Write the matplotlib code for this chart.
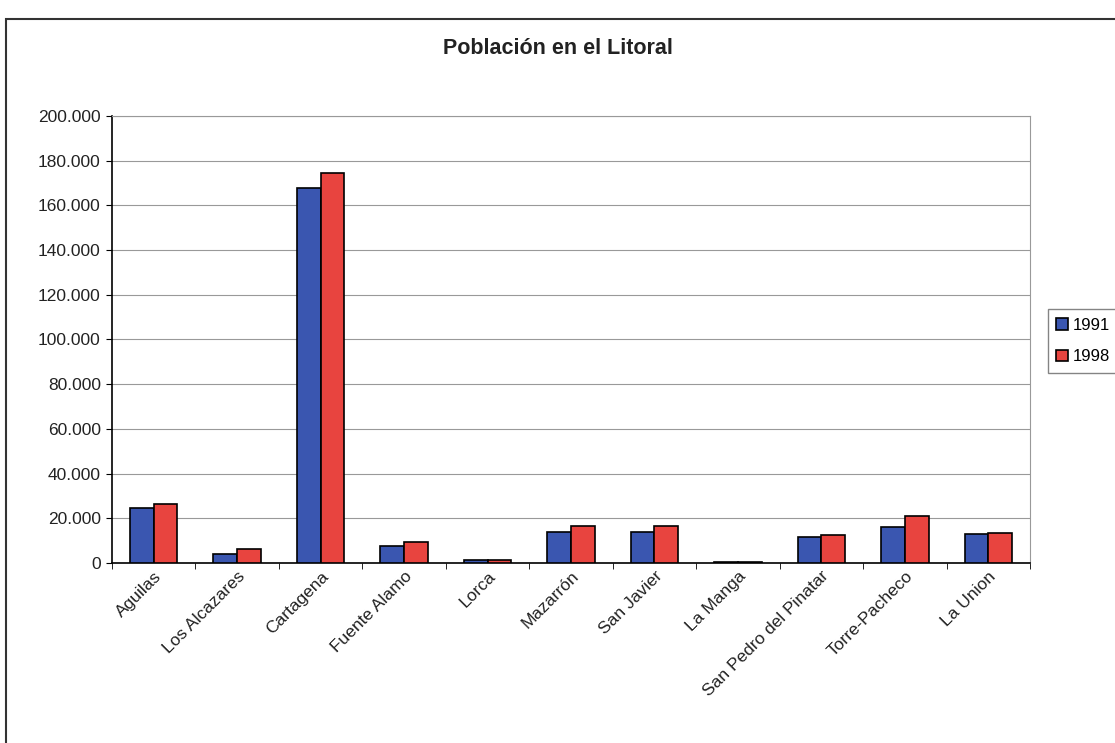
import numpy as np
import matplotlib
matplotlib.use("Agg")
from matplotlib import pyplot as plt
from matplotlib.patches import Rectangle
from matplotlib.ticker import FuncFormatter, FixedLocator

plt.rcParams['font.family'] = ['Liberation Sans', 'DejaVu Sans']

municipios = ['Aguilas', 'Los Alcazares', 'Cartagena', 'Fuente Alamo', 'Lorca',
              'Mazarrón', 'San Javier', 'La Manga', 'San Pedro del Pinatar',
              'Torre-Pacheco', 'La Union']
pob_1991 = [24600, 4000, 167800, 7600, 1300, 13900, 13900, 500, 11600, 16100, 13000]
pob_1998 = [26400, 6200, 174500, 9400, 1300, 16600, 16600, 500, 12500, 21000, 13400]
years = ['1991', '1998']

fig = plt.figure(figsize=(11.15, 7.43), dpi=100)
ax = fig.add_axes([0.1004, 0.2423, 0.8234, 0.6016])

x = np.arange(len(municipios))
w = 0.285
ax.bar(x - w/2, pob_1991, w, color='#3a56b0', edgecolor='black', linewidth=1.2, label=years[0], zorder=3)
ax.bar(x + w/2, pob_1998, w, color='#e8443f', edgecolor='black', linewidth=1.2, label=years[1], zorder=3)

ax.set_xlim(-0.5, len(municipios) - 0.5)
ax.set_ylim(0, 200000)
ax.set_yticks(np.arange(0, 200001, 20000))
ax.yaxis.set_major_formatter(FuncFormatter(lambda v, p: f"{int(v):,}".replace(',', '.')))
ax.grid(axis='y', color='#999999', linewidth=0.8, zorder=0)
ax.tick_params(axis='y', labelsize=12.5, length=4, direction='out', pad=4, labelcolor='#222222')

# category labels and boundary ticks
ax.set_xticks(x)
ax.set_xticklabels(municipios, rotation=45, ha='right', rotation_mode='anchor',
                   fontsize=12.5, color='#222222')
ax.tick_params(axis='x', which='major', length=0, pad=4)
ax.xaxis.set_minor_locator(FixedLocator(np.arange(-0.5, len(municipios), 1)))
ax.tick_params(axis='x', which='minor', length=4, direction='out')

for s in ['top', 'right']:
    ax.spines[s].set_color('#999999')
    ax.spines[s].set_linewidth(0.8)
ax.spines['left'].set_linewidth(1.2)
ax.spines['bottom'].set_linewidth(1.2)

fig.text(0.5, 0.935, 'Población en el Litoral', ha='center', va='center',
         fontsize=15.5, fontweight='bold', color='#222222')

fig.legend(loc='center left', bbox_to_anchor=(0.932, 0.541), fontsize=12,
           frameon=True, fancybox=False, edgecolor='#666666',
           handlelength=0.7, handleheight=0.7, handletextpad=0.3, borderpad=0.5,
           labelspacing=1.0)

fig.patches.append(Rectangle((0.005, -0.01), 1.1, 0.995 - 0.01, transform=fig.transFigure,
                             fill=False, edgecolor='#333333', linewidth=1.5))

fig.savefig('out.png', dpi=100)
